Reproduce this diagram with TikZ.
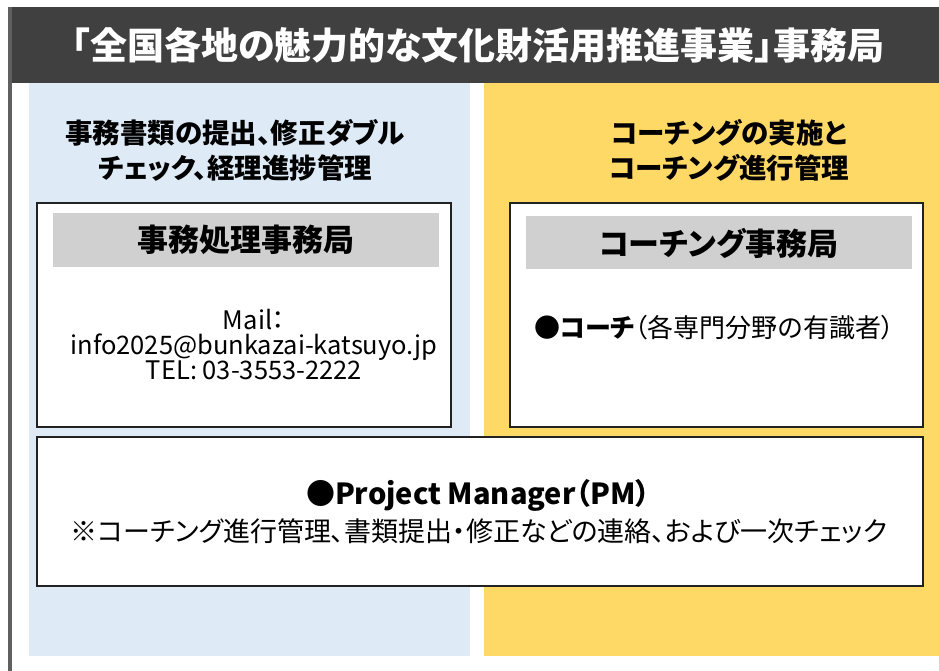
\documentclass[tikz,border=0pt]{standalone}
\usepackage{fontspec}
\setmainfont{Noto Sans CJK JP}[RawFeature=+palt]
\definecolor{headgray}{HTML}{404040}
\definecolor{framegray}{HTML}{606060}
\definecolor{paleblue}{HTML}{DEEAF6}
\definecolor{softyellow}{HTML}{FFD966}
\definecolor{stripgray}{HTML}{D0D0D0}
\definecolor{boxline}{HTML}{222222}

\begin{document}
\begin{tikzpicture}[x=1pt, y=-1pt,
    every node/.style={inner sep=0pt, align=center},
    whitebox/.style={draw=boxline, line width=2.5pt, fill=white},
    heading/.style={font=\fontsize{37}{40}\selectfont\bfseries, text=white},
    duty/.style={font=\fontsize{27.5}{35}\selectfont\bfseries},
    strip/.style={font=\fontsize{31}{34}\selectfont\bfseries},
    plain/.style={font=\fontsize{25.5}{25}\selectfont}]
    \useasboundingbox (0,0) rectangle (939,671);

    % frame and header
    \fill[headgray] (8,7) rectangle (939,83);
    \fill[framegray] (8,7) rectangle (12,671);
    \node[heading] (title) at (478,45) {「全国各地の魅力的な文化財活用推進事業」事務局};

    % two panels
    \fill[paleblue]   (29,83)  rectangle (470,656);
    \fill[softyellow] (484,83) rectangle (939,656);

    \node[duty] (leftduty)  at (235,150) {事務書類の提出、修正ダブル\\チェック、経理進捗管理};
    \node[duty] (rightduty) at (729,150) {コーチングの実施と\\コーチング進行管理};

    % office boxes
    \draw[whitebox] (37,203) rectangle (451,427);
    \fill[stripgray] (53,213) rectangle (439,267);
    \node[strip] (office) at (246,240) {事務処理事務局};
    \node[plain] (contact) at (254,345) {Mail：\\info2025@bunkazai-katsuyo.jp\\TEL: 03-3553-2222};

    \draw[whitebox] (510,203) rectangle (923,427);
    \fill[stripgray] (526,216) rectangle (912,269);
    \node[strip] (coachoffice) at (719,243) {コーチング事務局};
    \node[font=\fontsize{26}{30}\selectfont] (coach) at (714,328) {\textbf{●コーチ}（各専門分野の有識者）};

    % project manager
    \draw[whitebox] (37,437) rectangle (923,586);
    \node[font=\fontsize{29}{30}\selectfont\bfseries] (pm) at (478,495) {●Project Manager（PM）};
    \node[font=\fontsize{27}{30}\selectfont] (pmnote) at (479,531) {※コーチング進行管理、書類提出・修正などの連絡、および一次チェック};

\end{tikzpicture}
\end{document}
